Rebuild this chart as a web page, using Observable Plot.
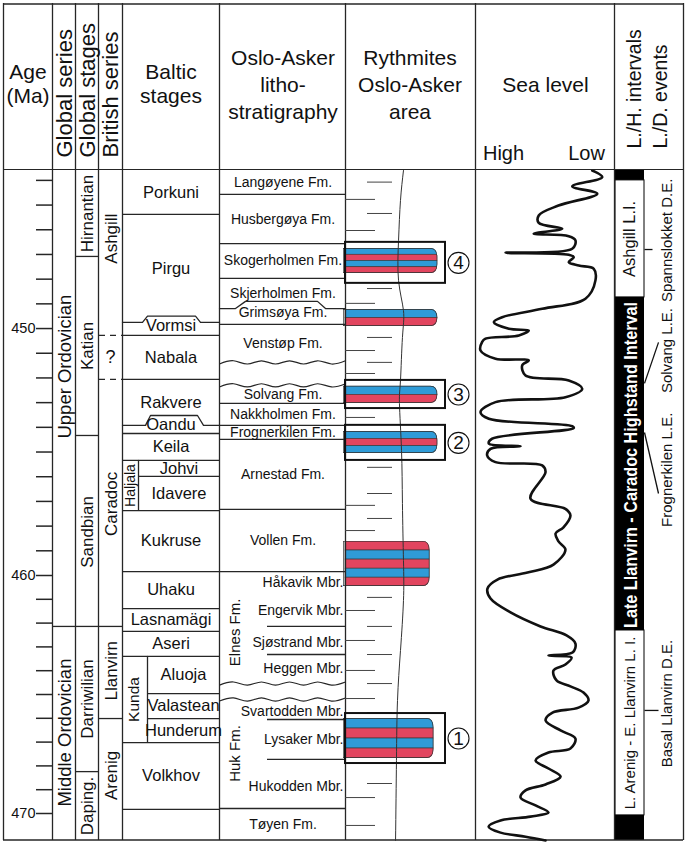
<!DOCTYPE html>
<html>
<head>
<meta charset="utf-8">
<script src="https://cdn.jsdelivr.net/npm/d3@7"></script>
<script src="https://cdn.jsdelivr.net/npm/@observablehq/plot@0.6"></script>
<style>
  html, body { margin: 0; padding: 0; background: #fff; }
  #chart svg { display: block; }
</style>
</head>
<body>
<div id="chart"></div>
<script>
// ================= DATA (ages in Ma) =================
const ageTicks = [444,445,446,447,448,449,450,451,452,453,454,455,456,457,458,459,460,461,462,463,464,465,466,467,468,469,470];
const ageLabels = [450, 460, 470];

const seriesNames = ["Upper Ordovician", "Middle Ordovician"];
const seriesTop   = [443.6, 462.14];
const seriesBase  = [462.14, 471.13];
const seriesLabelAt = [451.54, 466.6];

const stageNames = ["Hirnantian", "Katian", "Sandbian", "Darriwilian", "Daping."];
const stageTop   = [443.6, 447.08, 454.33, 462.14, 468.24];
const stageBase  = [447.08, 454.33, 462.14, 468.24, 471.13];

const britishNames = ["Ashgill", "?", "Caradoc", "Llanvirn", "Arenig"];
const britishTop   = [443.6, 450.28, 452.06, 462.14, 466.01];
const britishBase  = [450.28, 452.06, 462.14, 466.01, 471.13];
const britishLabelAt = [446.36, 451.17, 457.1, 464.0, 468.4];
const britishDashed = [450.28, 452.06];

const balticNames = ["Porkuni","Pirgu","Vormsi","Nabala","Rakvere","Oandu","Keila","Johvi","Idavere","Kukruse","Uhaku","Lasnamägi","Aseri","Aluoja","Valastean","Hunderum","Volkhov"];
const balticTop   = [443.6,445.38,449.75,450.28,452.06,453.92,454.25,455.34,455.99,457.37,459.84,461.39,462.35,463.4,464.96,466.01,467.02];
const balticBase  = [445.38,449.75,450.28,452.06,453.92,454.25,455.34,455.99,457.37,459.84,461.39,462.35,463.4,464.96,466.01,467.02,469.83];
const balticRaisedNames = ["Vormsi", "Oandu"];
const balticRaisedTop   = [449.5, 453.52];
const balticGroupNames  = ["Haljala", "Kunda"];
const balticGroupTop    = [455.34, 463.4];
const balticGroupBase   = [457.37, 467.02];

const osloNames = ["Langøyene Fm.","Husbergøya Fm.","Skogerholmen Fm.","Skjerholmen Fm.","Grimsøya Fm.","Venstøp Fm.","Solvang Fm.","Nakkholmen Fm.","Frognerkilen Fm.","Arnestad Fm.","Vollen Fm.","Elnes Fm.","Huk Fm.","Tøyen Fm."];
const osloTop  = [443.6,444.57,446.56,447.97,449.19,449.83,452.30,453.03,453.92,454.49,457.32,459.84,465.21,469.79];
const osloBase = [444.57,446.56,447.97,449.19,449.83,451.37,453.03,453.92,454.49,457.32,459.84,464.54,469.79,471.13];
const osloVerticalNames = ["Elnes Fm.", "Huk Fm."];
const osloVerticalAt    = [462.39, 467.48];
const osloRaisedNames = ["Grimsøya Fm."];
const osloRaisedTop   = [448.9];

const memberNames = ["Håkavik Mbr.","Engervik Mbr.","Sjøstrand Mbr.","Heggen Mbr.","Svartodden Mbr.","Lysaker Mbr.","Hukodden Mbr."];
const memberAt    = [460.29, 461.47, 462.82, 463.91, 465.71, 466.89, 468.87];
const memberBounds = [462.14, 463.32, 466.05, 467.73];

const rhythmTickAge  = [444.07,444.77,445.34,446.03,448.38,448.98,450.36,450.89,451.37,451.82,453.6,455.62,456.68,457.16,457.69,458.18,460.92,461.47,462.14,462.73,463.32,463.99,464.54,465.17,465.76,468.74,469.33,470.5];
const rhythmTickKind = ["S","L","S","L","S","L","S","L","S","L","L","S","S","L","S","L","S","L","S","L","S","L","S","L","S","S","L","L"];
const rhythmCurveAge = [443.6,444.81,446.43,448.05,449.27,450.36,452.10,453.03,454.94,457.08,459.39,461.05,463.15,465.25,467.77,471.13];
const rhythmCurvePos = [44.6,42.3,40.8,40.8,44.6,43.8,42.3,41.5,43.1,43.8,44.6,44.6,42.3,40.0,39.2,38.5];

const barTop     = [446.76, 449.23, 452.34, 454.17, 458.62, 466.01];
const barBase    = [447.77, 449.92, 453.03, 455.06, 460.46, 467.69];
const barLength  = [71, 71, 71, 71, 65, 68];
const barStripes = ["BRBR", "BR", "BR", "BRB", "RBRBR", "BRBR"];

const boxNumbers = ["4", "3", "2", "1"];
const boxTop  = [446.51, 452.1, 453.92, 465.8];
const boxBase = [448.17, 453.24, 455.34, 467.9];

// sea level: 0 = High (left), 100 = Low (right)
const seaAge = [443.60,443.87,444.24,444.54,445.02,445.42,445.72,445.96,446.16,446.26,446.43,446.77,446.93,447.01,447.11,447.31,447.45,447.58,448.05,448.79,449.20,449.54,449.74,450.01,450.08,450.28,450.41,450.54,450.89,451.22,451.29,451.49,451.90,452.10,452.44,452.78,452.98,453.38,453.65,453.95,454.03,454.46,454.66,454.77,454.87,455.14,455.41,455.54,455.81,456.89,457.30,
  457.57,458.05,458.30,458.62,458.95,459.56,459.88,460.17,460.55,460.97,461.55,462.14,462.52,462.86,463.24,463.36,463.45,463.74,463.99,464.41,464.66,464.92,465.25,465.55,465.76,466.09,466.51,466.85,467.27,467.44,467.77,468.11,468.45,468.78,469.03,469.33,469.66,469.96,470.13,470.29,470.55,470.80,470.97,471.13];
const seaLevel = [84.0,91.2,69.6,87.6,59.7,45.5,45.5,62.4,41.9,67.1,71.9,69.6,21.6,67.1,70.7,67.1,74.3,85.1,86.3,79.1,48.0,19.2,13.2,24.0,38.3,31.2,7.2,4.8,3.6,14.4,38.3,33.6,36.0,67.1,76.8,64.7,14.4,3.6,9.6,69.6,70.7,12.0,9.6,32.4,10.8,8.4,14.4,48.0,50.4,39.6,64.7,
  68.3,63.3,57.6,59.7,64.7,56.1,37.4,15.8,8.6,10.8,25.2,46.8,65.5,71.9,69.8,52.5,69.1,64.7,56.1,58.3,68.3,77.7,81.3,74.1,55.4,50.4,61.2,71.9,68.3,52.5,43.2,52.5,61.2,50.4,36.0,32.4,43.2,52.5,39.6,18.0,9.4,18.0,36.0,50.4];

const intervalNames = ["Ashgill L.I.", "Late Llanvirn - Caradoc Highstand Interval", "L. Arenig - E. Llanvirn L. I."];
const intervalTop   = [444.0, 448.74, 462.31];
const intervalBase  = [448.74, 462.31, 470.08];
const intervalHigh  = [false, true, false];

const eventNames     = ["Spannslokket D.E.", "Solvang L.E.", "Frognerkilen L.E.", "Basal Llanvirn D.E."];
const eventAt        = [446.8, 452.22, 454.21, 465.67];
const eventLeaderEnd = [446.8, 450.56, 456.68, 465.67];
const eventLabelAt   = [446.43, 450.89, 455.72, 465.38];

const headerLines = [["Age","(Ma)"], ["Baltic","stages"], ["Oslo-Asker","litho-","stratigraphy"], ["Rythmites","Oslo-Asker","area"], ["Sea level"]];
const headerVertical = ["Global series", "Global stages", "British series", "L./H. intervals", "L./D. events"];
const seaEnds = ["High", "Low"];

// ================= LAYOUT =================
const W = 685, HH = 170, BH = 674;
const F = "'Liberation Sans', Arial, Helvetica, sans-serif";
const INK = "#262626";
const BLUE = "#2f9bd7", RED = "#e2455f";
const X = {
  frame: [3, 683], age: [3, 52], series: [52, 75], stages: [75, 98], british: [98, 122],
  baltic: [122, 219], haljala: 138, kunda: 147, oslo: [219, 345], member: 267,
  rhythm: [345, 475], sea: [475, 614], lhBar: [615, 644], lhText: [644, 683],
  tick: [36, 52], boxRight: 445, numX: 458, tickL: [345, 375], tickS: [367, 392]
};
const TOP = 443.6, BASE = 471.13;
// the time axis of the original is drawn slightly unevenly: piecewise-linear warp
const warp = d3.scaleLinear().domain([TOP, 460, 470, BASE]).range([0, 405, 643, 670]);
const mid = (a, b) => (a + b) / 2;
const cmid = c => (c[0] + c[1]) / 2;
const px = (col, pct) => col[0] + (col[1] - col[0]) * pct / 100;
const k = v => () => v;

// ================= HEADER =================
const headerCols = [X.frame[0], X.series[0], X.stages[0], X.british[0], X.baltic[0], X.oslo[0], X.rhythm[0], X.sea[0], X.lhBar[0] - 1, X.frame[1]];
const headerCenters = [cmid(X.age), cmid(X.baltic), cmid(X.oslo) + 0.5, cmid(X.rhythm) - 0.5, cmid(X.sea) + 0.5];
const headerRowsY = {1: [85], 2: [72, 96], 3: [58, 85, 112]};
const headerTexts = [];
headerLines.forEach((lines, i) => lines.forEach((t, j) => headerTexts.push({t, x: headerCenters[i], y: headerRowsY[lines.length][j]})));
const vertX = [cmid(X.series) + 1, cmid(X.stages) + 1, cmid(X.british), 634, 660];
const vertY = [157, 157, 157, 148, 148];
const vertSize = [22, 22, 22, 19.5, 19.5];
const vertTexts = headerVertical.map((t, i) => ({t, x: vertX[i], y: vertY[i], s: vertSize[i]}));

const header = Plot.plot({
  width: W, height: HH, margin: 0,
  x: {domain: [0, W], range: [0, W], axis: null},
  y: {domain: [0, HH], range: [0, HH], axis: null},
  style: {fontFamily: F, background: "#fff", color: INK},
  marks: [
    Plot.ruleY([3.5], {x1: k(X.frame[0]), x2: k(X.frame[1]), stroke: INK, strokeWidth: 1.6}),
    Plot.ruleY([169.3], {x1: k(X.frame[0]), x2: k(X.frame[1]), stroke: INK, strokeWidth: 1.6}),
    Plot.ruleX(headerCols, {y1: k(3), y2: k(HH), stroke: INK, strokeWidth: 1.3}),
    Plot.text(headerTexts, {x: "x", y: "y", text: "t", fontSize: 21, fill: "#111"}),
    Plot.text(vertTexts, {x: "x", y: "y", text: "t", rotate: -90, textAnchor: "start", fontSize: d => d.s, fill: "#111"}),
    Plot.text(seaEnds, {x: (d, i) => i === 0 ? 503 : 586, y: k(153), text: d => d, fontSize: 20, fill: "#111"})
  ]
});

// ================= BODY =================
const rows = (names, top, base, at) => names.map((n, i) => ({name: n, top: top[i], base: base[i], at: at ? at[i] : mid(top[i], base[i])}));
const series = rows(seriesNames, seriesTop, seriesBase, seriesLabelAt);
const stages = rows(stageNames, stageTop, stageBase);
const british = rows(britishNames, britishTop, britishBase, britishLabelAt);
const baltic = rows(balticNames, balticTop, balticBase);
baltic.forEach(d => { const r = balticRaisedNames.indexOf(d.name); if (r >= 0) d.at = mid(balticRaisedTop[r], d.base); });
const groups = rows(balticGroupNames, balticGroupTop, balticGroupBase);
const groupOf = a => groups.find(g => a >= g.top - 1e-6 && a <= g.base + 1e-6);
const oslo = rows(osloNames, osloTop, osloBase);
oslo.forEach(d => { const r = osloRaisedNames.indexOf(d.name); if (r >= 0) d.at = mid(osloRaisedTop[r], d.base); });

// Baltic boundaries
const balticLines = [], balticBumps = [];
baltic.forEach((d, i) => {
  const next = baltic[i + 1];
  if (!next) { balticLines.push({a: d.base, x1: X.baltic[0]}); return; }
  const ri = balticRaisedNames.indexOf(next.name);
  if (ri >= 0) {
    const r = balticRaisedTop[ri], b = d.base;
    const xs = next.name === "Vormsi" ? [122, 142, 147, 195, 200, 219] : [122, 145, 150, 197, 203, 219];
    [b, b, r, r, b, b].forEach((a, j) => balticBumps.push({id: next.name, x: xs[j], a}));
    return;
  }
  const g1 = groupOf(mid(d.top, d.base)), g2 = groupOf(mid(next.top, next.base));
  const inner = g1 && g2 && g1 === g2;
  balticLines.push({a: d.base, x1: inner ? (g1.name === "Haljala" ? X.haljala : X.kunda) : X.baltic[0]});
});
const balticLabelX = d => {
  const g = groupOf(mid(d.top, d.base));
  return g ? ((g.name === "Haljala" ? X.haljala : X.kunda) + X.baltic[1]) / 2 : cmid(X.baltic);
};

// Oslo boundaries
const osloLines = [], osloBumps = [], waves = [];
oslo.forEach((d, i) => {
  const next = oslo[i + 1];
  if (!next) return;
  if (next.top > d.base + 1e-6) {
    [d.base, next.top].forEach((a, j) => {
      let s = 1;
      for (let x = X.oslo[0]; x <= X.oslo[1] + 0.1; x += 14) { waves.push({id: i * 2 + j, x, a: a + s * 0.065}); s = -s; }
    });
    return;
  }
  const ri = osloRaisedNames.indexOf(next.name);
  if (ri >= 0) {
    const r = osloRaisedTop[ri], b = d.base, xs = [219, 235, 245, 317, 325, 345];
    [b, b, r, r, b, b].forEach((a, j) => osloBumps.push({x: xs[j], a}));
    return;
  }
  osloLines.push(d.base);
});
const osloHorizontal = oslo.filter(d => !osloVerticalNames.includes(d.name));
const osloVertical = osloVerticalNames.map((n, i) => ({name: n, at: osloVerticalAt[i]}));
const members = memberNames.map((n, i) => ({name: n, at: memberAt[i]}));

// Rhythmites
const stripes = [];
barTop.forEach((t, i) => {
  const b = barBase[i], p = barStripes[i], n = p.length;
  for (let j = 0; j < n; j++) stripes.push({bar: i, y1: t + (b - t) * j / n, y2: t + (b - t) * (j + 1) / n, c: p[j] === "B" ? BLUE : RED, len: barLength[i]});
});
const barMarks = barTop.map((t, i) => Plot.rect(stripes.filter(s => s.bar === i),
  {x1: k(X.rhythm[0]), x2: d => px(X.rhythm, d.len), y1: "y1", y2: "y2", fill: "c", stroke: "#333", strokeWidth: 0.6, ariaDescription: "rhythmite-bar-" + i}));
const boxes = boxNumbers.map((n, i) => ({n, top: boxTop[i], base: boxBase[i]}));
const rTicks = rhythmTickAge.map((a, i) => ({a, kind: rhythmTickKind[i]}));
const rCurve = rhythmCurveAge.map((a, i) => ({a, v: rhythmCurvePos[i]}));
const sea = seaAge.map((a, i) => ({a, v: seaLevel[i]}));

const intervals = intervalNames.map((n, i) => ({name: n, top: intervalTop[i], base: intervalBase[i], high: intervalHigh[i]}));
const events = eventNames.map((n, i) => ({name: n, at: eventAt[i], end: eventLeaderEnd[i], label: eventLabelAt[i]}));

const body = Plot.plot({
  width: W, height: BH, margin: 0,
  x: {domain: [0, W], range: [0, W], axis: null},
  y: {transform: warp, domain: [0, 670], range: [0, 670], axis: null},
  color: {type: "identity"},
  style: {fontFamily: F, background: "#fff", color: INK},
  marks: [
    // L/H intervals bar
    Plot.rect([0], {x1: k(X.lhBar[0]), x2: k(X.lhBar[1]), y1: k(TOP), y2: k(BASE), fill: "#000"}),
    Plot.rect(intervals.filter(d => !d.high), {x1: k(X.lhBar[0]), x2: k(X.lhBar[1]), y1: "top", y2: "base", fill: "#fff", stroke: "#000", strokeWidth: 1}),

    // rhythmite bars
    ...barMarks,

    // column frame lines
    Plot.ruleX([X.frame[0], X.series[0], X.stages[0], X.british[0], X.baltic[0], X.oslo[0], X.rhythm[0], X.sea[0], X.lhBar[0] - 1, X.frame[1]],
      {y1: k(TOP), y2: k(BASE), stroke: INK, strokeWidth: 1.3}),
    Plot.ruleY([BASE], {x1: k(X.frame[0]), x2: k(X.frame[1]), dy: -0.5, stroke: INK, strokeWidth: 1.6}),

    // age axis
    Plot.ruleY(ageTicks, {x1: k(X.tick[0]), x2: k(X.tick[1]), stroke: INK, strokeWidth: 1.5}),
    Plot.text(ageLabels, {x: k(X.tick[0] - 1), y: d => d, text: d => String(d), textAnchor: "end", fontSize: 14.5, fill: "#111"}),

    // global series
    Plot.ruleY(series.slice(0, -1), {y: "base", x1: k(X.series[0]), x2: k(X.series[1]), stroke: INK, strokeWidth: 1.3}),
    Plot.text(series, {x: k(cmid(X.series) + 1), y: "at", text: "name", rotate: -90, fontSize: 18.5, fill: "#111"}),

    // global stages
    Plot.ruleY(stages.slice(0, -1), {y: "base", x1: k(X.stages[0]), x2: k(X.stages[1]), stroke: INK, strokeWidth: 1.3}),
    Plot.text(stages, {x: k(cmid(X.stages) + 1), y: "at", text: "name", rotate: -90, fontSize: 17, fill: "#111"}),

    // British series
    Plot.ruleY(british.slice(0, -1).filter(d => !britishDashed.includes(d.base)), {y: "base", x1: k(X.british[0]), x2: k(X.british[1]), stroke: INK, strokeWidth: 1.3}),
    Plot.ruleY(britishDashed, {x1: k(X.british[0] + 1), x2: k(X.british[1]), stroke: INK, strokeWidth: 1.3, strokeDasharray: "6,5"}),
    Plot.text(british.filter(d => d.name !== "?"), {x: k(cmid(X.british) + 1), y: "at", text: "name", rotate: -90, fontSize: 17, fill: "#111"}),
    Plot.text(british.filter(d => d.name === "?"), {x: k(cmid(X.british)), y: "at", text: "name", fontSize: 18, fill: "#111"}),

    // Baltic stages
    Plot.ruleY(balticLines, {y: "a", x1: "x1", x2: k(X.baltic[1]), stroke: INK, strokeWidth: 1.3}),
    Plot.line(balticBumps, {x: "x", y: "a", z: "id", stroke: INK, strokeWidth: 1.3}),
    Plot.ruleX(groups, {x: d => d.name === "Haljala" ? X.haljala : X.kunda, y1: "top", y2: "base", stroke: INK, strokeWidth: 1.3}),
    Plot.text(groups, {x: d => d.name === "Haljala" ? 130.5 : 134, y: "at", text: "name", rotate: -90, fontSize: d => d.name === "Haljala" ? 14 : 15.5, fill: "#111"}),
    Plot.text(baltic, {x: balticLabelX, y: "at", text: "name", fontSize: 16.5, fill: "#111"}),

    // Oslo-Asker lithostratigraphy
    Plot.ruleY(osloLines, {x1: k(X.oslo[0]), x2: k(X.oslo[1]), stroke: INK, strokeWidth: 1.3}),
    Plot.line(osloBumps, {x: "x", y: "a", stroke: INK, strokeWidth: 1.3}),
    Plot.line(waves, {x: "x", y: "a", z: "id", curve: "natural", stroke: INK, strokeWidth: 1.2}),
    Plot.ruleY(memberBounds, {x1: k(X.member), x2: k(X.oslo[1]), stroke: INK, strokeWidth: 1.3}),
    Plot.text(osloHorizontal, {x: k(cmid(X.oslo) + 0.5), y: "at", text: "name", fontSize: 14, fill: "#111"}),
    Plot.text(osloVertical, {x: k(235), y: "at", text: "name", rotate: -90, fontSize: 15, fill: "#111"}),
    Plot.text(members, {x: k(X.oslo[1] - 2), y: "at", text: "name", textAnchor: "end", fontSize: 14, fill: "#111"}),

    // Rhythmites column: lithology ticks and curve
    Plot.ruleY(rTicks, {y: "a", x1: d => d.kind === "L" ? X.tickL[0] : X.tickS[0], x2: d => d.kind === "L" ? X.tickL[1] : X.tickS[1], stroke: "#444", strokeWidth: 1}),
    Plot.line(rCurve, {x: d => px(X.rhythm, d.v), y: "a", curve: "natural", stroke: "#333", strokeWidth: 1}),
    Plot.rect(boxes, {x1: k(X.rhythm[0]), x2: k(X.boxRight), y1: "top", y2: "base", fill: "none", stroke: "#111", strokeWidth: 2}),
    Plot.dot(boxes, {x: k(X.numX), y: d => mid(d.top, d.base), r: 10.5, fill: "#fff", stroke: "#111", strokeWidth: 1.1}),
    Plot.text(boxes, {x: k(X.numX), y: d => mid(d.top, d.base), text: "n", fontSize: 19, fill: "#111", dy: 0.5}),

    // Sea level curve
    Plot.line(sea, {x: d => px(X.sea, d.v), y: "a", curve: "catmull-rom", stroke: "#111", strokeWidth: 2.6, strokeLinejoin: "round", strokeLinecap: "round"}),

    // L/H interval labels
    Plot.text(intervals.filter(d => !d.high), {x: k(cmid(X.lhBar)), y: d => mid(d.top, d.base), text: "name", rotate: -90, fontSize: d => d.name.length > 15 ? 15 : 16.5, fill: "#111"}),
    Plot.text(intervals.filter(d => d.high), {x: k(cmid(X.lhBar) + 1), y: d => mid(d.top, d.base), text: "name", rotate: -90, fontSize: 19, fontWeight: "bold", fill: "#fff"}),

    // L/D events
    Plot.link(events, {x1: k(X.lhBar[1]), y1: "at", x2: d => d.end === d.at ? (d.name.startsWith("Basal") ? 658 : 652) : 658, y2: "end", stroke: "#111", strokeWidth: 1.3}),
    Plot.text(events, {x: k(667), y: "label", text: "name", rotate: -90, fontSize: 15, fill: "#111"})
  ]
});

// condense the highstand label to fit its interval like the original bold narrow type
const svg = d3.select(body);
svg.selectAll("text").filter(function() { return this.textContent === intervalNames[1]; })
  .attr("textLength", 326).attr("lengthAdjust", "spacingAndGlyphs");

// round the right ends of the rhythmite bars (clip + outline, same scales)
const defs = svg.insert("defs", ":first-child");
barTop.forEach((t, i) => {
  const x0 = X.rhythm[0], xe = px(X.rhythm, barLength[i]);
  const y0 = warp(t), y1 = warp(barBase[i]);
  const rx = 7, ry = Math.min(9, (y1 - y0) / 2);
  const d = `M${x0 - 2},${y0} H${xe - rx} Q${xe},${y0} ${xe},${y0 + ry} V${y1 - ry} Q${xe},${y1} ${xe - rx},${y1} H${x0 - 2} Z`;
  defs.append("clipPath").attr("id", "barclip" + i).append("path").attr("d", d);
  const g = svg.select(`g[aria-description="rhythmite-bar-${i}"]`);
  g.attr("clip-path", `url(#barclip${i})`);
  g.append("path").attr("d", d).attr("fill", "none").attr("stroke", "#333").attr("stroke-width", 1.4);
});

const root = document.getElementById("chart");
root.appendChild(header);
root.appendChild(body);
</script>
</body>
</html>
